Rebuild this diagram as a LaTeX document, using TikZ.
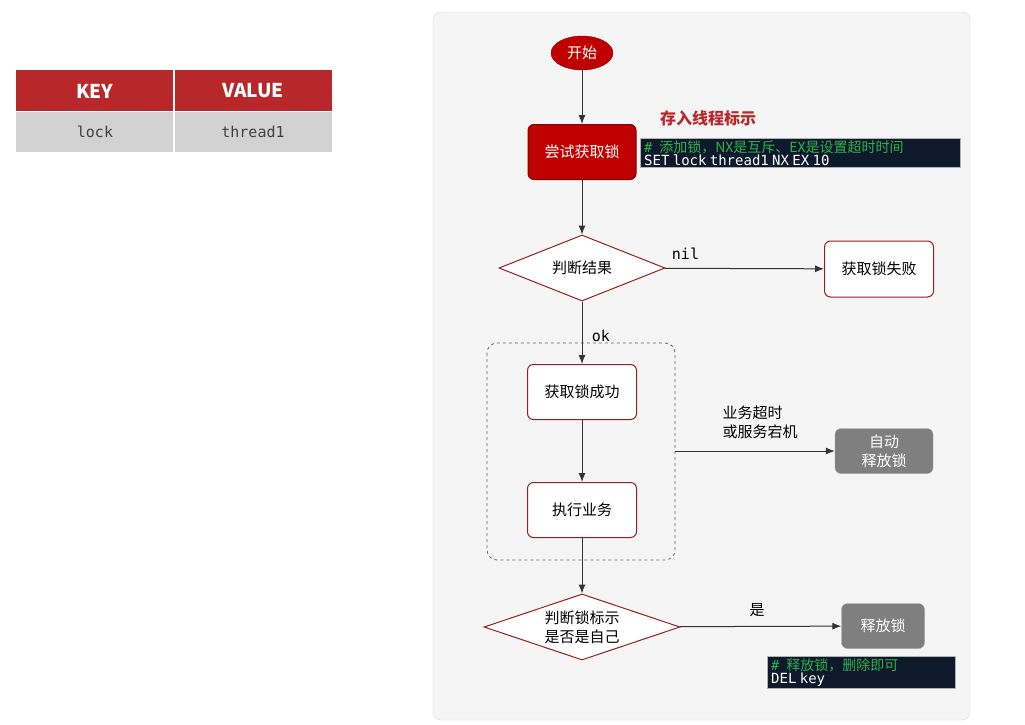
\documentclass[tikz,border=0pt]{standalone}
\usepackage{fontspec}
\setmainfont{Noto Sans CJK SC}
\newfontfamily\cjk{Noto Sans CJK SC}
\newfontfamily\mono{DejaVu Sans Mono}
\usetikzlibrary{shapes.geometric,arrows.meta}
\definecolor{dred}{HTML}{B8282A}
\definecolor{bred}{HTML}{C00000}
\definecolor{navy}{HTML}{0E1A2B}
\definecolor{cgreen}{HTML}{2FB24A}
\definecolor{gbox}{HTML}{7F7F7F}
\begin{document}
\begin{tikzpicture}[x=1pt,y=-1pt,
  box/.style={draw=dred!80!black,fill=white,rounded corners=6pt,line width=1pt,font=\cjk\fontsize{15}{19}\selectfont,align=center,inner sep=0pt},
  gray box/.style={fill=gbox,draw=gbox!70,rounded corners=6pt,text=white,font=\cjk\fontsize{15}{19}\selectfont,align=center,inner sep=0pt},
  dia/.style={diamond,aspect=2.5,draw=dred!80!black,fill=white,line width=1pt,font=\cjk\fontsize{15}{19}\selectfont,align=center,inner sep=0pt},
  arr/.style={-{Latex[length=9pt,width=7pt]},line width=1pt,draw=black!80},
  code/.style={fill=navy,draw=gray!60,inner xsep=4pt,inner ysep=2pt,align=left,anchor=north west,text=white},
  lab/.style={font=\cjk\fontsize{15}{19}\selectfont}]
\useasboundingbox (0,0) rectangle (1025,725);
% table
\fill[dred] (16,70) rectangle (332,111);
\fill[gray!35] (16,111) rectangle (332,152);
\draw[white,line width=1.5pt] (174,70) -- (174,152);
\draw[white,line width=1pt] (16,111) -- (332,111);
\node[text=white,font=\bfseries\fontsize{19}{22}\selectfont] (k) at (95,91) {KEY};
\node[text=white,font=\bfseries\fontsize{19}{22}\selectfont] (v) at (253,91) {VALUE};
\node[font=\mono\fontsize{15}{18}\selectfont,text=black!75] (lk) at (95,132) {lock};
\node[font=\mono\fontsize{15}{18}\selectfont,text=black!75] (th) at (253,132) {thread1};
% panel
\draw[fill=black!4,draw=black!15,rounded corners=8pt] (433,12) rectangle (970,720);
% nodes
\node[ellipse,fill=bred,draw=bred!70!black,minimum width=62pt,minimum height=34pt,inner sep=0pt,text=white,lab] (start) at (582,53) {开始};
\node[box,fill=bred,draw=bred!70!black,text=white,minimum width=108pt,minimum height=55pt] (try) at (582,152) {尝试获取锁};
\node[text=dred,font=\cjk\bfseries\fontsize{16}{19}\selectfont] (store) at (708,118) {存入线程标示};
\node[code,text width=312pt] (c1) at (640,138) {\fontsize{14}{17}\selectfont{\color{cgreen}\mono\itshape\#\ \ \cjk\itshape 添加锁，NX是互斥、EX是设置超时时间}\\\mono SET lock thread1 NX EX 10};
\node[dia,minimum width=166pt,minimum height=66pt] (j1) at (582,268) {判断结果};
\node[box,minimum width=109pt,minimum height=56pt] (fail) at (879,269) {获取锁失败};
\draw[dashed,rounded corners=10pt,draw=black!60,line width=0.8pt] (487,343) rectangle (675,560);
\coordinate (dr) at (675,451);
\node[box,minimum width=109pt,minimum height=55pt] (succ) at (582,392) {获取锁成功};
\node[box,minimum width=109pt,minimum height=55pt] (exec) at (582,510) {执行业务};
\node[gray box,minimum width=98pt,minimum height=45pt] (auto) at (884,451) {自动\\释放锁};
\node[dia,minimum width=196pt,minimum height=66pt] (j2) at (582,627) {判断锁标示\\是否是自己};
\node[gray box,minimum width=83pt,minimum height=45pt] (rel) at (883,626) {释放锁};
\node[code,text width=180pt] (c2) at (767,656) {\fontsize{14}{18}\selectfont{\color{cgreen}\mono\itshape\#\ \ \cjk\itshape 释放锁，删除即可}\\\mono DEL key};
% edges
\draw[arr] (start) -- (try);
\draw[arr] (try) -- (j1);
\draw[arr] (j1) -- node[above,pos=0.13,font=\mono\fontsize{15}{18}\selectfont,yshift=5pt] {nil} (fail);
\draw[arr] (j1) -- node[right,pos=0.55,font=\mono\fontsize{15}{18}\selectfont,xshift=6pt] {ok} (succ);
\draw[arr] (succ) -- (exec);
\draw[arr] (exec) -- (j2);
\draw[arr] (dr) -- (auto);
\node[lab,align=left] (tmo) at (760,422) {业务超时\\或服务宕机};
\draw[arr] (j2) -- node[above,pos=0.48,lab,yshift=6pt] {是} (rel);
\end{tikzpicture}
\end{document}
